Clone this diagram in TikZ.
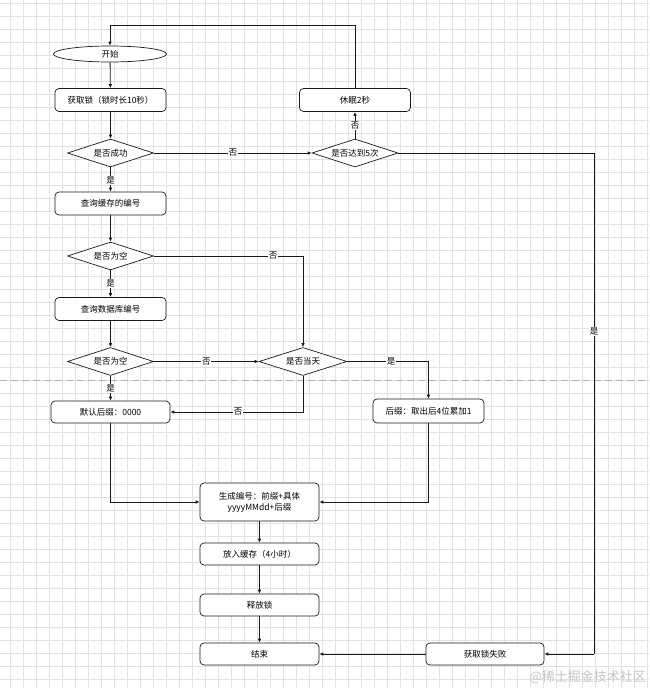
\documentclass[tikz,border=0pt]{standalone}
\usepackage{fontspec}
\setmainfont{Noto Sans CJK SC}
\usetikzlibrary{shapes.geometric,arrows.meta}
\definecolor{gridc}{HTML}{E2E2E2}
\definecolor{linec}{HTML}{1A1A1A}
\definecolor{wmc}{HTML}{C4C4C4}
\begin{document}
\begin{tikzpicture}[x=1pt,y=-1pt,
  txt/.style={font=\fontsize{8.5}{11}\selectfont},
  box/.style={txt,draw=linec,fill=white,rounded corners=4pt,minimum width=111pt,minimum height=23pt,inner sep=0pt,line width=0.7pt,align=center},
  dia/.style={txt,draw=linec,fill=white,diamond,aspect=4,minimum width=86pt,minimum height=28pt,inner sep=0pt,line width=0.7pt},
  oval/.style={txt,draw=linec,fill=white,ellipse,minimum width=113pt,minimum height=16pt,inner sep=0pt,line width=0.7pt},
  arr/.style={draw=linec,line width=0.8pt,-{Latex[length=4pt,width=3.6pt]}},
  conn/.style={draw=linec,line width=0.8pt},
  lbl/.style={txt,fill=white,inner sep=0.8pt}]
\useasboundingbox (0,0) rectangle (649,688);
\fill[white] (0,0) rectangle (649,688);
% grid
\foreach \i in {0,...,49} {\draw[gridc,line width=0.6pt] (10+13*\i,0) -- (10+13*\i,688);}
\foreach \j in {0,...,52} {\draw[gridc,line width=0.6pt] (0,3+13*\j) -- (649,3+13*\j);}
% page break line
\coordinate (dl) at (0,380.5);
\coordinate (dr) at (649,380.5);
\draw[gray!60,line width=0.7pt,dash pattern=on 7pt off 4pt] (dl) -- (dr);

% nodes
\node[oval] (start) at (110,54) {开始};
\node[box] (lock) at (110.5,100) {获取锁（锁时长10秒）};
\node[dia] (succ) at (110.5,153) {是否成功};
\node[dia] (five) at (355,153) {是否达到5次};
\node[box] (sleep) at (355,100) {休眠2秒};
\node[box] (cache) at (110.5,203.5) {查询缓存的编号};
\node[dia] (empty1) at (110.5,256) {是否为空};
\node[box] (db) at (110.5,309) {查询数据库编号};
\node[dia] (empty2) at (110.5,361.5) {是否为空};
\node[dia,minimum width=88pt] (today) at (303,361.5) {是否当天};
\node[box,minimum height=24pt] (suffix) at (428.5,411) {后缀：取出后4位累加1};
\node[box,minimum width=119pt,minimum height=22pt] (default) at (110.5,412) {默认后缀：0000};
\node[box,minimum width=119pt,minimum height=38pt] (gen) at (259.5,502) {生成编号：前缀+具体\\yyyyMMdd+后缀};
\node[box,minimum width=119pt,minimum height=22pt] (put) at (259.5,554) {放入缓存（4小时）};
\node[box,minimum width=119pt,minimum height=22pt] (rel) at (259.5,605) {释放锁};
\node[box,minimum width=119pt,minimum height=22pt] (end) at (259.5,654) {结束};
\node[box,minimum width=118pt,minimum height=22pt] (fail) at (485,654) {获取锁失败};

\coordinate (top) at (110,25);
\coordinate (rtop) at (594,153);
\coordinate (rbot) at (594,654);

% connectors
\draw[conn] (sleep.north) |- (top);
\draw[arr] (top) -- (start.north);
\draw[arr] (start) -- (lock);
\draw[arr] (lock) -- (succ);
\draw[arr] (succ) -- node[lbl]{否} (five);
\draw[arr] (five) -- node[lbl]{否} (sleep);
\draw[arr] (succ) -- node[lbl,pos=0.55]{是} (cache);
\draw[arr] (cache) -- (empty1);
\draw[arr] (empty1.east) -| node[lbl,pos=0.4]{否} (today.north);
\draw[arr] (empty1) -- node[lbl]{是} (db);
\draw[arr] (db) -- (empty2);
\draw[arr] (empty2) -- node[lbl]{否} (today);
\draw[arr] (empty2) -- node[lbl]{是} (default);
\draw[arr] (today.east) -| node[lbl,pos=0.27]{是} (suffix.north);
\draw[arr] (today.south) |- node[lbl,pos=0.745]{否} (default.east);
\draw[arr] (default.south) |- (gen.west);
\draw[arr] (suffix.south) |- (gen.east);
\draw[arr] (gen) -- (put);
\draw[arr] (put) -- (rel);
\draw[arr] (rel) -- (end);
\draw[arr] (fail) -- (end);
\draw[conn] (five.east) -- (rtop) -- node[lbl,pos=0.357]{是} (rbot);
\draw[arr] (rbot) -- (fail.east);

% watermark
\node[anchor=east,text=wmc,font=\fontsize{13}{14}\selectfont,inner sep=0pt] (wm) at (646,677) {@稀土掘金技术社区};
\end{tikzpicture}
\end{document}
